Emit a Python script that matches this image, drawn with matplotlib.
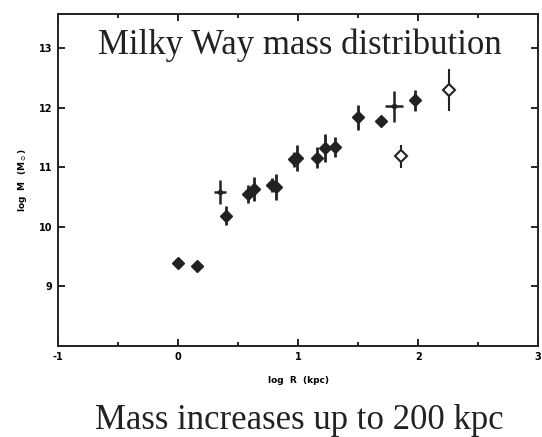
import matplotlib.pyplot as plt
from matplotlib.ticker import MultipleLocator

# log R (kpc), log M (Msun) and error bars
log_r = [0.00, 0.16, 0.40, 0.58, 0.63, 0.78, 0.82, 0.97, 0.99, 1.16, 1.22, 1.31, 1.50, 1.69, 1.97]
log_m = [9.39, 9.35, 10.19, 10.55, 10.64, 10.70, 10.67, 11.13, 11.15, 11.16, 11.32, 11.34, 11.84, 11.77, 12.12]
m_err = [0.06, 0.05, 0.16, 0.15, 0.20, 0.12, 0.22, 0.12, 0.22, 0.18, 0.24, 0.17, 0.21, 0.04, 0.17]

# points with a horizontal error bar too
cross_r = [0.35, 1.80]
cross_m = [10.58, 12.02]
cross_rerr = [0.05, 0.075]
cross_merr = [0.20, 0.26]

# open symbols
open_r = [1.86, 2.26]
open_m = [11.18, 12.29]
open_err = [0.20, 0.35]

fig = plt.figure(figsize=(5.42, 4.37), dpi=100)
ax = fig.add_axes([0.107, 0.208, 0.886, 0.760])

ax.errorbar(log_r, log_m, yerr=m_err, fmt='D', color='#222222', ms=6,
            elinewidth=2, capsize=0)
ax.errorbar(cross_r, cross_m, xerr=cross_rerr, yerr=cross_merr, fmt='o',
            color='#222222', ms=3, elinewidth=1.8, capsize=0)
ax.errorbar(open_r, open_m, yerr=open_err, fmt='D', color='#222222', ms=6,
            mfc='white', mec='#222222', mew=1.5, elinewidth=1.5, capsize=0)

ax.set_xlim(-1, 3)
ax.set_ylim(8, 13.57)
ax.set_xticks([-1, 0, 1, 2, 3])
ax.set_xticklabels(['-1', '0', '1', '2', '3'])
ax.xaxis.set_minor_locator(MultipleLocator(0.5))
ax.set_yticks([9, 10, 11, 12, 13])
ax.tick_params(which='both', direction='in', top=True, right=True,
               labelsize=7, width=1.2)
ax.tick_params(which='major', length=5, pad=4)
ax.tick_params(which='minor', length=3)
for lab in ax.get_xticklabels() + ax.get_yticklabels():
    lab.set_fontweight('bold')
for sp in ax.spines.values():
    sp.set_linewidth(1.4)
    sp.set_color('#222222')

ax.set_xlabel('log  R  (kpc)', fontsize=6.5, fontweight='bold', labelpad=10)
ax.set_ylabel(r'log  M  (M$_\odot$)', fontsize=6.5, fontweight='bold', labelpad=7)

ax.text(0.504, 0.907, 'Milky Way mass distribution', transform=ax.transAxes,
        ha='center', va='center', fontsize=25, family='Liberation Serif',
        color='#222222')
fig.text(0.553, 0.037, 'Mass increases up to 200 kpc', ha='center', va='center',
         fontsize=25, family='Liberation Serif', color='#222222')

fig.savefig('out.png', dpi=100)
